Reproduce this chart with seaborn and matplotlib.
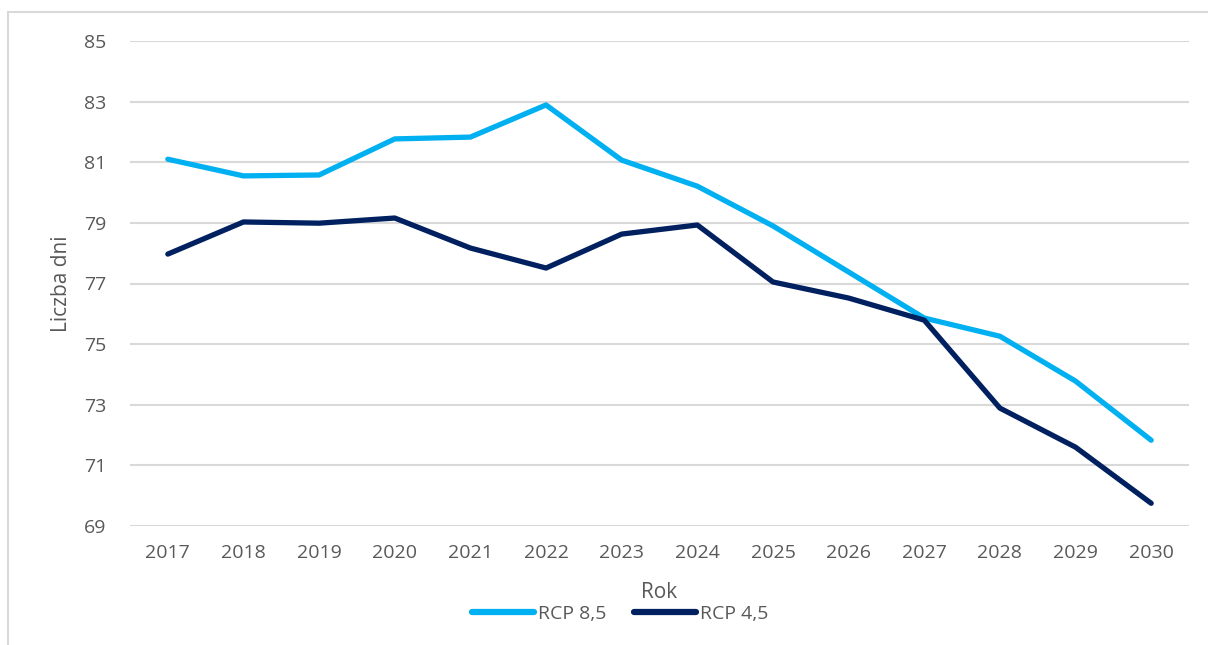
import matplotlib
matplotlib.use("Agg")
import matplotlib.pyplot as plt
import seaborn as sns
import pandas as pd
from matplotlib.lines import Line2D

years = [2017, 2018, 2019, 2020, 2021, 2022, 2023, 2024, 2025, 2026, 2027, 2028, 2029, 2030]
rcp85 = [81.1, 80.55, 80.58, 81.77, 81.83, 82.89, 81.07, 80.21, 78.9, 77.38, 75.86, 75.26, 73.78, 71.83]
rcp45 = [77.97, 79.03, 78.99, 79.16, 78.17, 77.51, 78.63, 78.93, 77.05, 76.52, 75.79, 72.89, 71.6, 69.75]
series_names = ["RCP 8,5", "RCP 4,5"]
yticks = [69, 71, 73, 75, 77, 79, 81, 83, 85]

sns.set_theme(style="white")
plt.rcParams['font.family'] = ['Open Sans', 'DejaVu Sans']

df = pd.DataFrame({
    "Rok": [str(y) for y in years] * 2,
    "val": rcp85 + rcp45,
    "series": [series_names[0]] * len(years) + [series_names[1]] * len(years),
})

colors = {"RCP 8,5": "#00B0F0", "RCP 4,5": "#002060"}
txt = "#595959"

fig = plt.figure(figsize=(12.08, 6.45), dpi=100)
ax = fig.add_axes([130/1208, 1-526/645, (1189-130)/1208, (526-41)/645])

sns.lineplot(data=df, x="Rok", y="val", hue="series", palette=colors, ax=ax,
             linewidth=3.8, sort=False, legend=False, solid_capstyle="round", solid_joinstyle="round")

ax.set_xlim(-0.5, len(years) - 0.5)
ax.set_ylim(69, 85)
ax.set_yticks(yticks)
ax.set_yticklabels([str(t) for t in yticks])
ax.yaxis.grid(True, color="#D9D9D9", linewidth=1.5)
ax.set_axisbelow(True)
for s in ax.spines.values():
    s.set_visible(False)
ax.tick_params(axis="both", length=0, labelsize=14, labelcolor=txt)
ax.tick_params(axis="y", pad=17)
ax.tick_params(axis="x", pad=13)
ax.set_xlabel("Rok", fontsize=15, color=txt, labelpad=14)
ax.set_ylabel("Liczba dni", fontsize=15, color=txt, labelpad=9)

handles = [Line2D([0], [0], color=colors[n], linewidth=4.5, solid_capstyle="round") for n in series_names]
fig.legend(handles, series_names, loc="center", bbox_to_anchor=(620/1208, 1-614/645), ncol=2,
           frameon=False, fontsize=14, labelcolor=txt, handlelength=3.2, handletextpad=0.2, columnspacing=1.4)

# outer border (top and left)
fig.add_artist(Line2D([8/1208, 8/1208], [0, 1-12/645], transform=fig.transFigure, color="#D9D9D9", linewidth=1.5))
fig.add_artist(Line2D([8/1208, 1], [1-12/645, 1-12/645], transform=fig.transFigure, color="#D9D9D9", linewidth=1.5))

fig.savefig("out.png", dpi=100)
